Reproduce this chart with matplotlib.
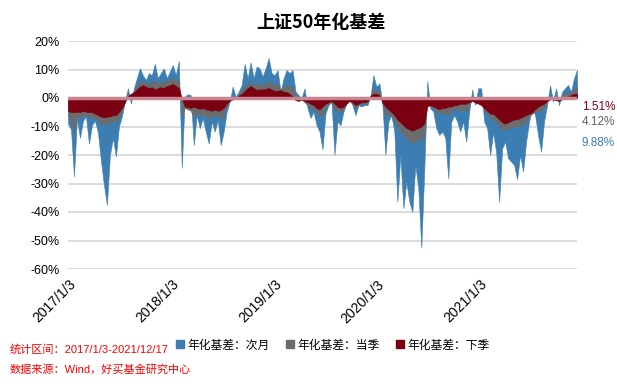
import numpy as np
import pandas as pd
import matplotlib
matplotlib.use("Agg")
import matplotlib.pyplot as plt
from matplotlib import font_manager
from matplotlib.lines import Line2D
import matplotlib.transforms as mtransforms

# =====================================================
# fonts
# =====================================================
names = {f.name for f in font_manager.fontManager.ttflist}
narrow = "Liberation Sans Narrow" if "Liberation Sans Narrow" in names else "Liberation Sans"
cjk = "Noto Sans CJK SC"
plt.rcParams["font.family"] = [cjk, "DejaVu Sans"]
plt.rcParams["axes.unicode_minus"] = False

# =====================================================
# data (annualised basis, %), sampled evenly 2017/1/3 - 2021/12/17
# =====================================================
start_date = "2017-01-03"
end_date = "2021-12-17"

basis_next_month = [
    -9, -11, -27.5, -7, -14, -8, -6.5, -16, -9.5, -8,
    -12, -22, -30.5, -37.5, -20, -14, -20.5, -10, -6.5, -1.3,
    3.4, -2, 3.4, 7, 10.4, 8, 6.3, 8.7, 8, 12,
    7, 8.7, 10.4, 7, 9.2, 11.6, 8, 13, -24.5, 0.5,
    1.3, 1, -16.5, -6, -10.6, -7, -11.8, -16, -8.3, -11.8,
    -7.7, -16.5, -11.8, -4.8, -1.3, 4, 0.5, 2.2, 4.6, 12,
    6.9, 12.5, 6.9, 11, 10.4, 7.5, 10.4, 14, 8.7, 8,
    9.8, 2.2, 6.9, 9.8, 8.7, 9.8, 2.2, 1, 0, 3.4,
    -3.6, -7, -4.8, -9.5, -11.8, -18, -5.4, -2.5, -1.3, -19.8,
    -8.3, -9.5, -4.8, -1.9, 0, -2.5, -6, -2.5, -3, -2.5,
    -2.5, 0.5, 8, 4, 5.1, -1.9, -19.8, -8.3, -6, -11.8,
    -36.4, -20, -38.7, -29.4, -36.4, -40, -23.5, -31.7, -52.5, -25,
    6, -3.6, -4.8, -10.6, -13, -11.8, -14, -28.2, -8.3, -6,
    -8.3, -11.8, -8.3, -15.3, -4.8, 3, -2.5, 3.4, 3.4, -8.3,
    -10.6, -20, -12, -19, -36.4, -17.7, -15.3, -21.2, -22.3, -23.5,
    -28.5, -20, -25.8, -15.3, -8.3, -3.6, -6, -13, -18.8, -8.3,
    -2.5, 4.5, -1.3, 3.4, -2.5, 2.2, 3.4, 4.6, 2.2, 6.9,
    9.88,
]

basis_this_quarter = [
    -6, -8, -12, -6.5, -7, -6, -6, -7, -6.5, -7,
    -8, -9, -9.5, -9, -8.5, -8, -8.5, -7, -4.5, -1,
    1.5, 1, 2.5, 4, 5.5, 6, 5, 5, 5.5, 6,
    5, 5.5, 6, 5.5, 6.5, 7, 6, 6.5, -6, -3.5,
    -4, -4.5, -7, -5, -6, -5.5, -6.5, -7, -6, -6.5,
    -6, -7, -6, -3, -1, 0.5, 0, 1.5, 2.5, 4,
    4.5, 5.5, 4.5, 5, 5, 4.5, 5, 6, 5, 4.5,
    5, 3, 4, 4.5, 4, 4, 0.5, -1, -0.5, -1.5,
    -2.5, -3.5, -3.5, -5, -6, -6, -3, -2, -1.5, -4,
    -4.5, -5, -4, -2, -1, -2, -3.5, -2.5, -2, -2,
    -2, 0.5, 3.5, 2.5, 2, -2, -6, -5.5, -6.5, -8,
    -10, -11.5, -13, -14, -15, -16, -15, -14.5, -15, -12,
    -1, -3, -3.5, -5, -5.5, -5, -5.5, -6, -4.5, -4,
    -4, -4.5, -4, -4.5, -2.5, -0.5, -2, -1.5, -2, -4.5,
    -5.5, -7, -7.5, -8.5, -10, -11, -11, -11, -10.5, -10,
    -10, -9.5, -9, -8, -6.5, -5.5, -5, -4.5, -4.5, -3,
    -1.5, 0.5, -0.5, 0.5, -1, 0.5, 1.5, 2, 2, 3,
    4.12,
]

basis_next_quarter = [
    -4.5, -5, -5, -4.8, -5, -4.5, -4.8, -5, -5, -5.5,
    -6, -6.5, -6.8, -6.5, -6.5, -6, -6, -5, -3.5, -1.5,
    0.5, 1.5, 2, 3, 4, 4.5, 4, 3.5, 3.8, 3,
    3.5, 3.8, 3.5, 4.2, 4.5, 5, 4.2, 3.5, 0, -3,
    -3.2, -3.5, -3, -3.5, -3.8, -3.5, -4, -4.2, -4.5, -4,
    -4.5, -4.2, -3.5, -2, -1, -0.5, 0, 0.8, 1.5, 2.5,
    3.5, 4.2, 3.5, 2.8, 3, 3, 3.2, 3.5, 3, 2.5,
    2.5, 2.8, 2.2, 2, 1.5, 0.5, -0.8, -1, -0.5, -1,
    -1.5, -2, -2.5, -3.5, -4, -3, -2, -1.5, -1, -2,
    -3, -3.5, -3, -2, -1, -1.5, -2.5, -2, -1.5, -1.5,
    -1.2, 0.8, 1.5, 1.5, 1, -1.5, -3, -4, -5, -6,
    -7.5, -8.5, -9.5, -10.5, -11, -11.5, -11, -10.5, -10, -9,
    -3, -2.5, -3, -3.5, -4, -3.5, -3.5, -3, -3, -2.5,
    -2.5, -2, -2, -2, -1.5, -1, -1.5, -2, -2.5, -3.5,
    -4.5, -5.5, -5.5, -6.5, -7.5, -8.5, -9, -8.5, -8, -7.5,
    -7.5, -7, -6.5, -6, -5.5, -5, -4, -3, -2.5, -2,
    -1, -0.5, -0.5, -0.8, -1, -0.5, 0, 0.5, 1, 1.5,
    1.51,
]

series_names = ["年化基差：次月", "年化基差：当季", "年化基差：下季"]
series_colors = ["#3d7eb2", "#6c6c6c", "#7a0012"]
label_colors = ["#3d7eb2", "#606060", "#7a0012"]

# right-hand last-value labels and where they sit (in % on the y axis)
last_labels = ["9.88%", "4.12%", "1.51%"]
last_label_y = [-15.8, -8.4, -3.2]

tick_dates = ["2017-01-03", "2018-01-03", "2019-01-03", "2020-01-03", "2021-01-03"]
tick_labels = ["2017/1/3", "2018/1/3", "2019/1/3", "2020/1/3", "2021/1/3"]
y_ticks = [20, 10, 0, -10, -20, -30, -40, -50, -60]

dates = pd.date_range(start_date, end_date, periods=len(basis_next_month))
series = [basis_next_month, basis_this_quarter, basis_next_quarter]

# =====================================================
# plot
# =====================================================
fig = plt.figure(figsize=(6.17, 3.84), dpi=100)
ax = fig.add_axes([68 / 617, 1 - 269 / 384, 509 / 617, 228 / 384])

for vals, c in zip(series, series_colors):
    ax.fill_between(dates, 0, vals, color=c, lw=0.4, edgecolor=c, zorder=2)

ax.axhline(0, color="#c98690", lw=2.5, zorder=3)

ax.set_xlim(pd.Timestamp(start_date), pd.Timestamp(end_date))
ax.set_ylim(-60, 20)
ax.set_yticks(y_ticks)
ax.set_yticklabels([f"{v}%" for v in y_ticks], fontfamily=narrow, fontsize=9)
ax.grid(axis="y", color="#d9d9d9", lw=1.3, zorder=0)
ax.set_axisbelow(True)
ax.tick_params(axis="both", length=0)
ax.tick_params(axis="y", pad=6)

ax.set_xticks(pd.to_datetime(tick_dates))
ax.set_xticklabels(tick_labels, rotation=45, ha="right", va="top",
                   rotation_mode="anchor", fontfamily=narrow, fontsize=10)
ax.tick_params(axis="x", pad=6)
shift = mtransforms.ScaledTranslation(1 / 100, 0, fig.dpi_scale_trans)
for lbl in ax.get_xticklabels():
    lbl.set_transform(lbl.get_transform() + shift)

for s in ax.spines.values():
    s.set_visible(False)

fig.text(0.5 + 12 / 617, 1 - 22 / 384, "上证50年化基差", ha="center", va="center",
         fontsize=13, fontweight="bold")

# last values on the right
trans = mtransforms.blended_transform_factory(fig.transFigure, ax.transData)
for txt, yv, c in zip(last_labels, last_label_y, label_colors):
    ax.text(582 / 617, yv, txt, transform=trans, color=c, fontsize=8.5,
            fontfamily=narrow, va="center", ha="left")

handles = [Line2D([], [], marker="s", ls="", ms=5.5, color=c) for c in series_colors]
fig.legend(handles, series_names, loc="center", bbox_to_anchor=(333 / 617, 1 - 345 / 384),
           ncol=3, frameon=False, fontsize=8.5, handlelength=0.7, handletextpad=0.25,
           columnspacing=1.4)

fig.text(10 / 617, 1 - 349 / 384, "统计区间：2017/1/3-2021/12/17", color="red",
         fontsize=8, va="center", family=[narrow, cjk])
fig.text(10 / 617, 1 - 369 / 384, "数据来源：Wind，好买基金研究中心", color="red",
         fontsize=8, va="center", family=[narrow, cjk])

fig.savefig("out.png", dpi=100)
